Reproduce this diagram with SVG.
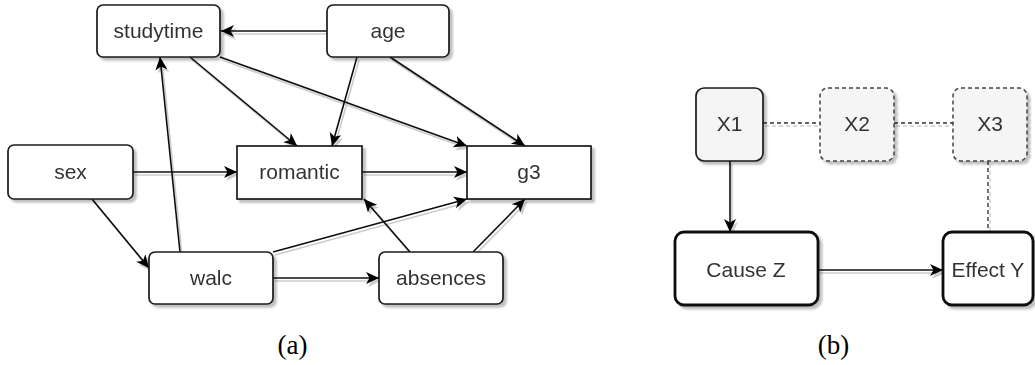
<svg xmlns="http://www.w3.org/2000/svg" width="1035" height="365" viewBox="0 0 1035 365">
<defs>
<filter id="sh" x="-20%" y="-20%" width="140%" height="140%">
<feDropShadow dx="3" dy="3" stdDeviation="0.8" flood-color="#000" flood-opacity="0.25"/>
</filter>
<filter id="esh" x="-20%" y="-20%" width="140%" height="140%">
<feDropShadow dx="2" dy="3" stdDeviation="0.4" flood-color="#000" flood-opacity="0.2"/>
</filter>
<marker id="arr" markerUnits="userSpaceOnUse" markerWidth="15" markerHeight="13" refX="13" refY="6" orient="auto">
<path d="M0,0 L13,6 L0,12 L3.5,6 Z" fill="#000"/>
</marker>
</defs>
<style>
.box{fill:#fff;stroke:#1a1a1a;stroke-width:1.7}
.lt{fill:#f5f5f5;stroke:#1a1a1a;stroke-width:1.7}
.dash{fill:#f5f5f5;stroke:#444;stroke-width:1.5;stroke-dasharray:4 3}
.thick{fill:#fff;stroke:#111;stroke-width:2.8}
.t{font-family:"Liberation Sans",Arial,sans-serif;font-size:21px;fill:#333;text-anchor:middle}
.e{fill:none;stroke:#111;stroke-width:1.6;marker-end:url(#arr)}
.d{fill:none;stroke:#333;stroke-width:1.4;stroke-dasharray:4 3}
.cap{font-family:"Liberation Serif","Times New Roman",serif;font-size:27px;fill:#000;text-anchor:middle}
</style>
<g id="connectors" filter="url(#esh)">
<path class="e" d="M327,31 L221,31"/>
<path class="e" d="M190,57 L297,146"/>
<path class="e" d="M220,57 L467,146"/>
<path class="e" d="M357,57 L332,146"/>
<path class="e" d="M390,57 L525,146"/>
<path class="e" d="M133,172 L237,172"/>
<path class="e" d="M362,172 L467,172"/>
<path class="e" d="M92,199 L149,268"/>
<path class="e" d="M180,252 L160,57"/>
<path class="e" d="M273,252 L467,199"/>
<path class="e" d="M273,278 L379,278"/>
<path class="e" d="M410,252 L364,199"/>
<path class="e" d="M473,252 L525,199"/>
<path class="e" d="M730,161 L730,232"/>
<path class="e" d="M818,270 L943,270"/>
<path class="d" d="M763,123 L820,123"/>
<path class="d" d="M894,123 L953,123"/>
<path class="d" d="M988,161 L988,232"/>
</g>
<g id="studytime" filter="url(#sh)"><rect class="box" x="97" y="5" width="123" height="52" rx="6"/><text class="t" x="158.5" y="38">studytime</text></g>
<g id="age" filter="url(#sh)"><rect class="box" x="327" y="5" width="122" height="52" rx="6"/><text class="t" x="388" y="38">age</text></g>
<g id="sex" filter="url(#sh)"><rect class="box" x="8" y="145" width="125" height="54" rx="6"/><text class="t" x="70.5" y="179">sex</text></g>
<g id="romantic" filter="url(#sh)"><rect class="box" x="237" y="146" width="125" height="53"/><text class="t" x="299.5" y="179">romantic</text></g>
<g id="g3" filter="url(#sh)"><rect class="box" x="467" y="146" width="124" height="53"/><text class="t" x="529" y="179">g3</text></g>
<g id="walc" filter="url(#sh)"><rect class="box" x="149" y="252" width="124" height="52" rx="6"/><text class="t" x="211" y="285">walc</text></g>
<g id="absences" filter="url(#sh)"><rect class="box" x="379" y="252" width="124" height="52" rx="6"/><text class="t" x="441" y="285">absences</text></g>
<g id="X1" filter="url(#sh)"><rect class="lt" x="696" y="88" width="67" height="73" rx="8"/><text class="t" x="729.5" y="131">X1</text></g>
<g id="X2" filter="url(#sh)"><rect class="dash" x="820" y="88" width="74" height="73" rx="8"/><text class="t" x="857" y="131">X2</text></g>
<g id="X3" filter="url(#sh)"><rect class="dash" x="953" y="88" width="74" height="73" rx="8"/><text class="t" x="990" y="131">X3</text></g>
<g id="causeZ" filter="url(#sh)"><rect class="thick" x="675" y="232" width="143" height="73" rx="9"/><text class="t" x="746" y="277">Cause Z</text></g>
<g id="effectY" filter="url(#sh)"><rect class="thick" x="943" y="232" width="90" height="73" rx="9"/><text class="t" x="988" y="277">Effect Y</text></g>
<text class="cap" x="292.5" y="354">(a)</text>
<text class="cap" x="833.5" y="354">(b)</text>
</svg>
